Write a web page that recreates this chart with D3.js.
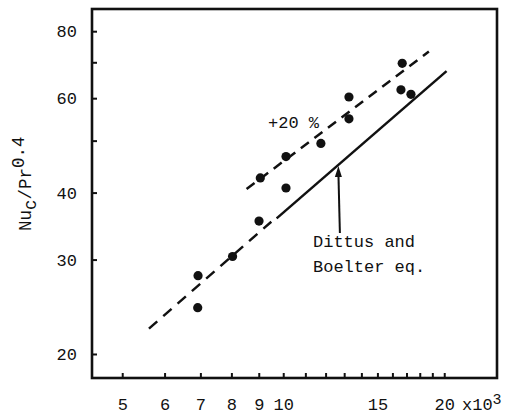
<!DOCTYPE html>
<html>
<head>
<meta charset="utf-8">
<script src="https://cdn.jsdelivr.net/npm/d3@7"></script>
<style>
  html, body { margin: 0; padding: 0; background: #fff; }
  svg { display: block; }
  text { font-family: "Courier New", "Liberation Mono", monospace; fill: #111; }
</style>
</head>
<body>
<svg id="chart" width="514" height="416"></svg>
<script>
// Measured points: Reynolds number (x10^3) and Nu_c / Pr^0.4
const reValues = [6.93, 6.92, 8.04, 9.01, 9.06, 10.12, 10.12, 11.76, 13.27, 13.27, 16.6, 17.33, 16.69];
const nuValues = [28.0, 24.4, 30.4, 35.4, 42.6, 40.8, 46.7, 49.4, 54.9, 60.3, 62.2, 61.0, 69.7];

// Dittus–Boelter correlation: solid over its range, dashed where extended
const dbRe = [9.72, 20.2];
const dbNu = [35.8, 67.4];
const dbExtRe = [5.61, 9.5];
const dbExtNu = [22.3, 35.3];

// +20 % band
const plusRe = [8.54, 18.72];
const plusNu = [40.6, 73.3];

// Axis ticks
const xTicks = [5, 6, 7, 8, 9, 10, 11, 12, 13, 14, 15, 16, 17, 18, 19, 20];
const xLabels = [5, 6, 7, 8, 9, 10, 15, 20];
const yTicks = [20, 30, 40, 50, 60, 70, 80];
const yLabels = [20, 30, 40, 60, 80];

const svg = d3.select("#chart");
const L = 92, R = 497, T = 9, B = 378;

const x = d3.scaleLog().domain([4.39, 25.1]).range([L, R]);
const y = d3.scaleLog().domain([18.04, 88.0]).range([B, T]);

// Axes with inward ticks
const xAxis = d3.axisBottom(x)
  .tickValues(xTicks)
  .tickSizeInner(-5).tickSizeOuter(0).tickPadding(20)
  .tickFormat(d => xLabels.includes(d) ? String(d) : "");
const gx = svg.append("g").attr("transform", `translate(0,${B})`).call(xAxis);

const yAxis = d3.axisLeft(y)
  .tickValues(yTicks)
  .tickSizeInner(-5).tickSizeOuter(0).tickPadding(15)
  .tickFormat(d => yLabels.includes(d) ? String(d) : "");
const gy = svg.append("g").attr("transform", `translate(${L},0)`).call(yAxis);

[gx, gy].forEach(g => {
  g.select(".domain").remove();
  g.selectAll(".tick line").attr("stroke", "#111").attr("stroke-width", 2);
  g.selectAll(".tick text").attr("font-size", 17).attr("font-family", null).attr("fill", "#111");
});

// Plot frame
svg.append("rect")
  .attr("x", L).attr("y", T).attr("width", R - L).attr("height", B - T)
  .attr("fill", "none").attr("stroke", "#111").attr("stroke-width", 2.6);

// Multiplier label after the x axis
svg.append("text")
  .attr("x", 462).attr("y", 410).attr("font-size", 17)
  .text("x10")
  .append("tspan").attr("dy", -6).attr("font-size", 15).text("3");

// Y axis title
const yt = svg.append("text")
  .attr("transform", "translate(31,231) rotate(-90)")
  .attr("font-size", 17.5);
yt.append("tspan").text("Nu");
yt.append("tspan").attr("dy", 5).text("c");
yt.append("tspan").attr("dy", -5).text("/Pr");
yt.append("tspan").attr("dy", -7).text("0.4");

const line = d3.line().x(d => x(d[0])).y(d => y(d[1]));
const pairs = (a, b) => a.map((v, i) => [v, b[i]]);

svg.append("path").datum(pairs(dbExtRe, dbExtNu))
  .attr("d", line).attr("fill", "none").attr("stroke", "#111")
  .attr("stroke-width", 2.5).attr("stroke-dasharray", "11,8");

svg.append("path").datum(pairs(dbRe, dbNu))
  .attr("d", line).attr("fill", "none").attr("stroke", "#111")
  .attr("stroke-width", 2.5);

svg.append("path").datum(pairs(plusRe, plusNu))
  .attr("d", line).attr("fill", "none").attr("stroke", "#111")
  .attr("stroke-width", 2.5).attr("stroke-dasharray", "10,7");

// Data points
svg.append("g").selectAll("circle")
  .data(pairs(reValues, nuValues))
  .join("circle")
  .attr("cx", d => x(d[0])).attr("cy", d => y(d[1]))
  .attr("r", 4.6).attr("fill", "#111");

// Annotations
svg.append("text").attr("x", 268).attr("y", 128).attr("font-size", 17).text("+20 %");

const tipRe = 12.68;
const tipNu = Math.exp(Math.log(dbNu[0]) + (Math.log(tipRe) - Math.log(dbRe[0])) *
  (Math.log(dbNu[1]) - Math.log(dbNu[0])) / (Math.log(dbRe[1]) - Math.log(dbRe[0])));
const tx = x(tipRe), ty = y(tipNu) + 1;
svg.append("line")
  .attr("x1", tx + 1.5).attr("y1", 233).attr("x2", tx).attr("y2", ty + 6)
  .attr("stroke", "#111").attr("stroke-width", 2);
svg.append("path")
  .attr("d", `M${tx},${ty} L${tx - 3.5},${ty + 11} L${tx + 3.5},${ty + 11} Z`)
  .attr("fill", "#111");

svg.append("text").attr("x", 313).attr("y", 247).attr("font-size", 17).text("Dittus and");
svg.append("text").attr("x", 313).attr("y", 272).attr("font-size", 17).text("Boelter eq.");
</script>
</body>
</html>
